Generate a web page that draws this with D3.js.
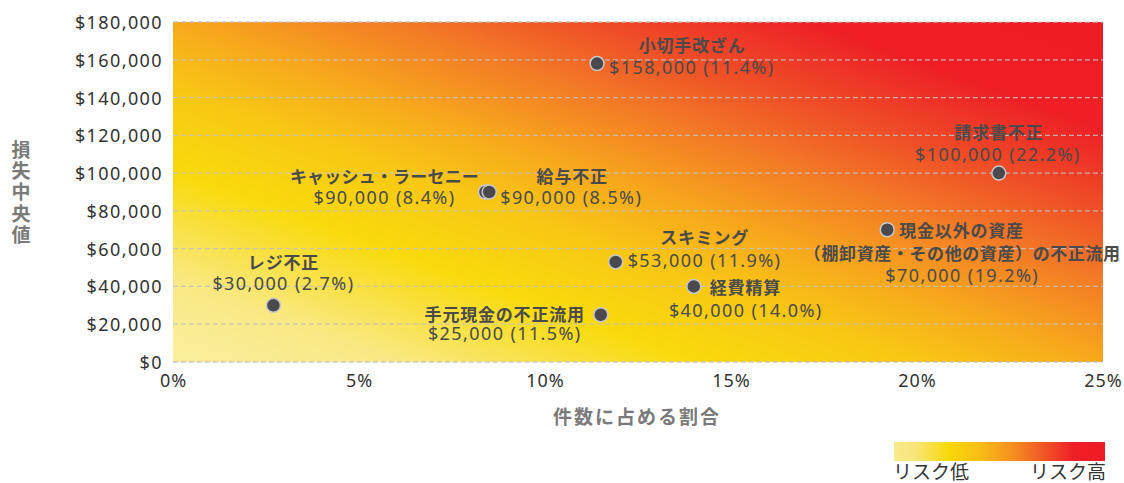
<!DOCTYPE html>
<html lang="ja">
<head>
<meta charset="utf-8">
<script src="https://cdn.jsdelivr.net/npm/d3@7"></script>
<style>
  html, body { margin: 0; padding: 0; background: #fff; }
  svg { display: block; }
  text { font-family: "Noto Sans", "Noto Sans CJK JP", sans-serif; }
  .jp { font-family: "Noto Sans CJK JP", "Noto Sans", sans-serif; }
</style>
</head>
<body>
<svg id="chart" width="1124" height="483"></svg>
<script>
// ---- data ----
const schemes = ["レジ不正", "手元現金の不正流用", "キャッシュ・ラーセニー", "給与不正", "小切手改ざん",
                 "スキミング", "経費精算", "請求書不正", "現金以外の資産"];
const shareOfCases = [2.7, 11.5, 8.4, 8.5, 11.4, 11.9, 14.0, 22.2, 19.2];   // %
const medianLoss   = [30000, 25000, 90000, 90000, 158000, 53000, 40000, 100000, 70000]; // USD
const yTicks = [0, 20000, 40000, 60000, 80000, 100000, 120000, 140000, 160000, 180000];
const xTicks = [0, 5, 10, 15, 20, 25];
const xTitle = "件数に占める割合";
const yTitle = "損失中央値";
const legendLow = "リスク低", legendHigh = "リスク高";
const extraLine = { 8: "（棚卸資産・その他の資産）の不正流用" };

// ---- label placement (relative to each point) ----
// name: [anchor, dx, dy], value: [anchor, dx, dy]
const labelLayout = [
  { name: ["middle", 10, -36],  value: ["middle", 10, -15] },
  { name: ["end", -16, 6],      value: ["middle", -96, 25] },
  { name: ["middle", -101, -9], value: ["middle", -101, 12], spacing: 0.2 },
  { name: ["middle", 83, -9],   value: ["start", 11, 12] },
  { name: ["middle", 95, -12],  value: ["start", 12, 10] },
  { name: ["middle", 89, -18],  value: ["start", 12, 5] },
  { name: ["start", 16, 8],     value: ["middle", 52, 31] },
  { name: ["middle", 0, -34],   value: ["middle", -1, -12] },
  { name: ["start", 12, 7],     value: ["middle", 75, 52], extra: ["middle", 75, 30] }
];

const svg = d3.select("#chart");
const margin = { left: 173, right: 21, top: 22, bottom: 121 };
const W = 1124, H = 483;
const x = d3.scaleLinear().domain([0, 25]).range([margin.left, W - margin.right]);
const y = d3.scaleLinear().domain([0, 180000]).range([H - margin.bottom, margin.top]);

const defs = svg.append("defs");
// risk background: pale yellow (bottom-left) to red (top-right)
const bg = defs.append("linearGradient").attr("id", "riskBg")
  .attr("x1", 0).attr("y1", 1).attr("x2", 1).attr("y2", 0);
[[0, "#faef9e"], [0.12, "#f9e985"], [0.28, "#f9da0c"], [0.4, "#f8c814"], [0.5, "#f7a91c"],
 [0.62, "#f37a26"], [0.72, "#ef4f27"], [0.84, "#ee2026"], [1, "#ee1c25"]]
  .forEach(([o, c]) => bg.append("stop").attr("offset", o).attr("stop-color", c));

const lg = defs.append("linearGradient").attr("id", "riskLegend")
  .attr("x1", 0).attr("y1", 0).attr("x2", 1).attr("y2", 0);
[[0, "#f8ea8c"], [0.1, "#f8e57a"], [0.26, "#f9d90a"], [0.4, "#f9bf16"], [0.55, "#f5941f"],
 [0.7, "#f15a27"], [0.85, "#ee1f26"], [1, "#ee1c25"]]
  .forEach(([o, c]) => lg.append("stop").attr("offset", o).attr("stop-color", c));

// plot background
svg.append("rect")
  .attr("x", x(0)).attr("y", y(180000))
  .attr("width", x(25) - x(0)).attr("height", y(0) - y(180000))
  .attr("fill", "url(#riskBg)");

// horizontal dashed gridlines
svg.append("g").selectAll("line").data(yTicks).join("line")
  .attr("x1", x(0)).attr("x2", x(25))
  .attr("y1", d => y(d)).attr("y2", d => y(d))
  .attr("stroke", "#c2c2c2").attr("stroke-opacity", 0.85)
  .attr("stroke-width", 1.3).attr("stroke-dasharray", "5,3");

// y axis
const yAxis = svg.append("g").attr("transform", `translate(${x(0)},0)`)
  .call(d3.axisLeft(y).tickValues(yTicks).tickSize(0).tickPadding(10)
        .tickFormat(d => "$" + d3.format(",")(d)));
yAxis.select(".domain").remove();
yAxis.selectAll("text").attr("font-size", 18).attr("fill", "#333")
  .attr("letter-spacing", "1.4px").attr("dy", "0.36em");

// x axis
const xAxis = svg.append("g").attr("transform", `translate(0,${y(0)})`)
  .call(d3.axisBottom(x).tickValues(xTicks).tickSize(0).tickPadding(12)
        .tickFormat(d => d + "%"));
xAxis.select(".domain").remove();
xAxis.selectAll("text").attr("font-size", 18).attr("fill", "#333")
  .attr("letter-spacing", "1px");

// axis titles
svg.append("text").attr("class", "jp")
  .attr("x", 637).attr("y", 424).attr("text-anchor", "middle")
  .attr("font-size", 19).attr("font-weight", 700).attr("fill", "#7a7a7a")
  .attr("letter-spacing", "2px").text(xTitle);

// vertical (stacked) y title
svg.append("text").attr("class", "jp")
  .attr("x", 21).attr("y", 140)
  .style("writing-mode", "vertical-rl")
  .attr("font-size", 19).attr("font-weight", 700).attr("fill", "#7a7a7a")
  .attr("letter-spacing", "2.3px")
  .text(yTitle);

// points
const pts = schemes.map((s, i) => ({ s, share: shareOfCases[i], loss: medianLoss[i], i }));
svg.append("g").selectAll("circle").data(pts).join("circle")
  .attr("cx", d => x(d.share)).attr("cy", d => y(d.loss)).attr("r", 7)
  .attr("fill", "#4a4a4e").attr("stroke", "#c9c9cc").attr("stroke-width", 1.5);

// labels
const lab = svg.append("g");
pts.forEach(d => {
  const L = labelLayout[d.i];
  const px = x(d.share), py = y(d.loss);
  const sp = (L.spacing != null ? L.spacing : 0.8) + "px";
  lab.append("text").attr("class", "jp")
    .attr("x", px + L.name[1]).attr("y", py + L.name[2])
    .attr("text-anchor", L.name[0])
    .attr("font-size", 17).attr("font-weight", 700).attr("fill", "#4a4a4a")
    .attr("letter-spacing", sp).text(d.s);
  if (L.extra) {
    lab.append("text").attr("class", "jp")
      .attr("x", px + L.extra[1]).attr("y", py + L.extra[2])
      .attr("text-anchor", L.extra[0])
      .attr("font-size", 17).attr("font-weight", 700).attr("fill", "#4a4a4a")
      .attr("letter-spacing", "0.6px").text(extraLine[d.i]);
  }
  lab.append("text")
    .attr("x", px + L.value[1]).attr("y", py + L.value[2])
    .attr("text-anchor", L.value[0])
    .attr("font-size", 18).attr("fill", "#4a4a4a")
    .attr("letter-spacing", "1.4px")
    .text("$" + d3.format(",")(d.loss) + " (" + d.share.toFixed(1) + "%)");
});

// risk legend
svg.append("rect").attr("x", 894).attr("y", 442).attr("width", 211).attr("height", 19)
  .attr("fill", "url(#riskLegend)");
svg.append("text").attr("class", "jp").attr("x", 893).attr("y", 479)
  .attr("font-size", 19).attr("fill", "#333").text(legendLow);
svg.append("text").attr("class", "jp").attr("x", 1106).attr("y", 479)
  .attr("text-anchor", "end").attr("font-size", 19).attr("fill", "#333").text(legendHigh);
</script>
</body>
</html>
